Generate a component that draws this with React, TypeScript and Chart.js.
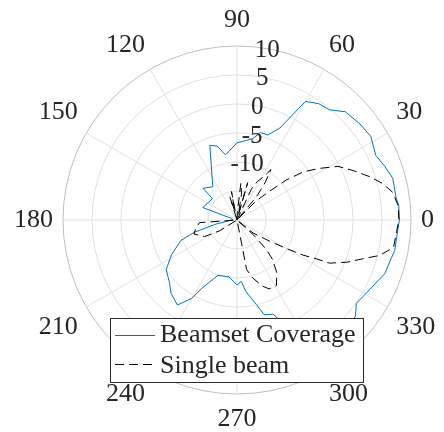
import React, { useEffect, useRef } from 'react';
import { Chart, registerables } from 'chart.js';

Chart.register(...registerables);

// ---- data (angles in degrees, gain in dB) ----
const thetaTicks = [0, 30, 60, 90, 120, 150, 180, 210, 240, 270, 300, 330];
const radialTicks = [-10, -5, 0, 5, 10];
const rMin = -20;
const rMax = 10;

const coverageAngles = [
  0, 5, 8, 15, 20, 25, 32, 38, 45, 50, 55, 60, 65, 70, 75, 79, 90, 100, 105, 110,
  126, 137, 139, 160, 164, 176, 191, 196, 200, 208, 215, 223, 228, 235, 240, 243,
  251, 262, 270, 274, 277, 283, 286, 291, 296, 302, 308, 314, 321, 325, 335, 340,
  346, 349, 354, 357,
];
const coverageDb = [
  8.0, 8.0, 7.7, 7.8, 7.1, 6.4, 7.2, 6.9, 6.4, 4.8, 4.5, 3.6, -2.5, -4.4, -4.4, -5.7, -6.7, -8.6, -6.8, -6.3,
  -12.9, -12.0, -14.4, -13.7, -19.0, -19.3, -16.3, -12.4, -9.7, -7.2, -5.1, -4.1, -3.0, -2.1, -4.4, -6.9,
  -9.9, -10.1, -8.8, -9.4, -7.6, -5.0, -3.0, -2.6, 1.5, 4.5, 6.0, 6.8, 6.3, 5.1, 6.2, 7.1,
  7.4, 7.7, 7.7, 7.8,
];

const beamAngles = [
  0, 5, 10, 14, 18, 23, 28, 32, 36, 39, 42, 45, 47, 50, 53, 56, 58, 62, 65, 69,
  74, 77, 80, 84, 87, 90, 98, 101, 104, 107, 111, 181, 184, 191, 198, 207, 212, 216,
  280, 281, 285, 291, 295, 301, 307, 312, 315, 318, 320, 321, 327, 330, 332, 334,
  335, 339, 343, 346, 350, 356,
];
const beamDb = [
  7.9, 7.9, 7.3, 5.9, 4.1, 1.8, -0.3, -3.2, -5.9, -9.0, -13.0, -15.5, -20, -14.8, -12.0, -9.5, -11.0, -12.5, -14.0, -20,
  -13.3, -19, -15.5, -13.6, -18.5, -20, -20, -15.0, -18.5, -15.8, -20, -20, -13.5, -12.8, -12.2, -13.7, -16.5, -20,
  -20, -11.3, -9.7, -7.8, -6.9, -6.8, -8.6, -10.8, -12.9, -16.3, -20, -16.4, -13.3, -10.2, -7.1, -4.7,
  -2.4, 0.3, 2.8, 5.3, 7.4, 7.6,
];

const seriesNames = ['Beamset Coverage', 'Single beam'];

// one category per degree, clockwise from the top (90 deg), so the polar
// angle increases counter-clockwise with 0 deg on the right
const N = 360;
const indexOf = (a: number) => (((90 - Math.round(a)) % 360) + 360) % 360;
const categories = Array.from({ length: N }, (_, i) => String((90 - i + 360) % 360));
const toSeries = (angles: number[], vals: number[]) => {
  const arr: (number | null)[] = new Array(N).fill(null);
  angles.forEach((a, k) => {
    arr[indexOf(a)] = vals[k];
  });
  return arr;
};

const TEXT = '#262626';
const FONT = '"Liberation Serif", "Times New Roman", serif';

const overlay = {
  id: 'polarOverlay',
  afterDatasetsDraw(chart: any) {
    const scale = chart.scales.r;
    const ctx = chart.ctx as CanvasRenderingContext2D;
    const cx = scale.xCenter;
    const cy = scale.yCenter;
    ctx.save();
    ctx.fillStyle = TEXT;
    ctx.textBaseline = 'alphabetic';

    // radial tick labels along the 80 deg direction
    const tf = 25;
    ctx.font = `${tf}px ${FONT}`;
    ctx.textAlign = 'center';
    const ra = (80 * Math.PI) / 180;
    radialTicks.forEach((v) => {
      const r = scale.getDistanceFromCenterForValue(v);
      const x = cx + r * Math.cos(ra);
      const y = cy - r * Math.sin(ra);
      ctx.fillText(String(v), x, y + 0.33 * tf);
    });

    // angular labels
    const af = 26;
    ctx.font = `${af}px ${FONT}`;
    const R = scale.drawingArea + 10;
    thetaTicks.forEach((a) => {
      const t = (a * Math.PI) / 180;
      const c = Math.cos(t);
      const s = Math.sin(t);
      const x = cx + R * c;
      const y = cy - R * s;
      ctx.textAlign = c > 0.01 ? 'left' : c < -0.01 ? 'right' : 'center';
      const yc = s > 0.01 ? y - 17.3 : s < -0.01 ? y + 13.5 : y - 1.9;
      ctx.fillText(String(a), x, yc + 0.33 * af);
    });
    ctx.restore();
  },
  afterDraw(chart: any) {
    const ctx = chart.ctx as CanvasRenderingContext2D;
    const ds = chart.data.datasets;
    ctx.save();
    const bx = 110.5, by = 318.5, bw = 253, bh = 64;
    ctx.fillStyle = '#ffffff';
    ctx.fillRect(bx, by, bw, bh);
    ctx.strokeStyle = '#2b2b2b';
    ctx.lineWidth = 1;
    ctx.strokeRect(bx, by, bw, bh);

    const rows = [335.5, 364.5];
    const baselines = [342, 372.5];
    ctx.font = `26px ${FONT}`;
    ctx.textAlign = 'left';
    ctx.textBaseline = 'alphabetic';
    ds.forEach((d: any, k: number) => {
      ctx.beginPath();
      ctx.setLineDash(d.borderDash || []);
      ctx.strokeStyle = d.borderColor;
      ctx.lineWidth = 1;
      ctx.moveTo(115, rows[k]);
      ctx.lineTo(155, rows[k]);
      ctx.stroke();
      ctx.setLineDash([]);
      ctx.fillStyle = TEXT;
      ctx.fillText(d.label, 160, baselines[k]);
    });
    ctx.restore();
  },
};

export default function App() {
  const ref = useRef<HTMLCanvasElement | null>(null);
  useEffect(() => {
    if (!ref.current) return;
    const chart = new Chart(ref.current, {
      type: 'radar',
      data: {
        labels: categories,
        datasets: [
          {
            label: seriesNames[0],
            data: toSeries(coverageAngles, coverageDb),
            borderColor: '#0072BD',
            backgroundColor: 'transparent',
            borderWidth: 1,
            fill: false,
            spanGaps: true,
            tension: 0,
            pointRadius: 0,
            pointHoverRadius: 0,
            pointHitRadius: 0,
            order: 1,
          },
          {
            label: seriesNames[1],
            data: toSeries(beamAngles, beamDb),
            borderColor: '#000000',
            backgroundColor: 'transparent',
            borderWidth: 1,
            borderDash: [9, 5],
            fill: false,
            spanGaps: true,
            tension: 0,
            pointRadius: 0,
            pointHoverRadius: 0,
            pointHitRadius: 0,
            order: 0,
          },
        ],
      },
      options: {
        responsive: false,
        animation: false,
        devicePixelRatio: 1,
        layout: { padding: { left: 63, right: 33, top: 46, bottom: 38 } },
        plugins: {
          legend: { display: false },
          tooltip: { enabled: false },
          title: { display: false },
        },
        events: [],
        scales: {
          r: {
            min: rMin,
            max: rMax,
            beginAtZero: false,
            startAngle: 0,
            ticks: { display: false, stepSize: 5 },
            pointLabels: { display: false },
            grid: {
              circular: true,
              color: (c: any) => (c.tick && c.tick.value === rMax ? '#bfbfbf' : '#e0e0e0'),
              lineWidth: 1,
            },
            angleLines: {
              display: true,
              color: '#e0e0e0',
              lineWidth: (c: any) => (c.index % 30 === 0 ? 1 : 0),
            },
          },
        },
      },
      plugins: [overlay],
    } as any);
    return () => chart.destroy();
  }, []);
  return (
    <div style={{ position: 'absolute', left: 0, top: 0, width: 444, height: 432, background: '#fff' }}>
      <canvas ref={ref} width={444} height={432} style={{ display: 'block' }} />
    </div>
  );
}
